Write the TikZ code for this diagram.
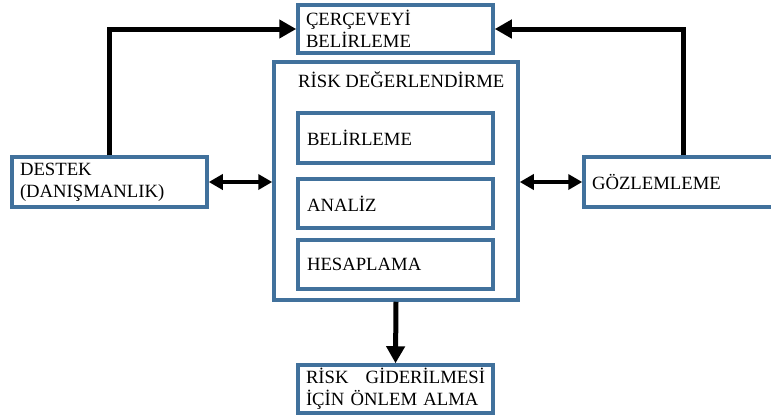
\documentclass[tikz,border=0pt]{standalone}
\usepackage{fontspec}
\setmainfont{Liberation Serif}
\usetikzlibrary{arrows.meta}
\definecolor{boxblue}{RGB}{65,113,156}
\begin{document}
\begin{tikzpicture}[x=1pt,y=-1pt,
  font=\fontsize{18.7}{22}\selectfont,
  box/.style={draw=boxblue, line width=3.5pt, inner xsep=8pt, inner ysep=0pt,
    align=left, anchor=center},
  tipbig/.tip={Triangle[length=17pt,width=18pt]},
  tipsmall/.tip={Triangle[length=14pt,width=15pt]},
  conn/.style={line width=5pt, -tipbig},
  twoway/.style={line width=4pt, tipsmall-tipsmall}]
\useasboundingbox (0,0) rectangle (771,418);

% outer boxes
\node[box, minimum width=195pt, minimum height=48pt, text width=179pt] (frame) at (395.5,29)
  {ÇERÇEVEYİ\\BELİRLEME};
\node[box, minimum width=195pt, minimum height=50pt, text width=179pt] (destek) at (109.5,182)
  {DESTEK\\(DANIŞMANLIK)};
\node[box, minimum width=191pt, minimum height=50pt, text width=175pt] (gozlem) at (679.5,182)
  {GÖZLEMLEME};
\node[box, minimum width=195pt, minimum height=48pt, text width=179pt] (onlem) at (395.5,389)
  {RİSK\hfill GİDERİLMESİ\\İÇİN ÖNLEM ALMA};

% risk assessment group
\node[draw=boxblue, line width=3.5pt, minimum width=244pt, minimum height=238pt, inner sep=0pt] (risk) at (396,181) {};
\node[anchor=base west, inner sep=0pt] (risktitle) at (298,87) {RİSK DEĞERLENDİRME};
\node[box, inner xsep=9pt, minimum width=195pt, minimum height=50pt, text width=177pt] (belir) at (395.5,138)
  {BELİRLEME};
\node[box, inner xsep=9pt, minimum width=195pt, minimum height=49pt, text width=177pt] (analiz) at (395.5,203.5)
  {ANALİZ};
\node[box, inner xsep=9pt, minimum width=195pt, minimum height=49pt, text width=177pt] (hesap) at (395.5,264.5)
  {HESAPLAMA};

% connectors
\draw[conn] (destek.north) |- (frame.west);
\draw[conn] ([xshift=3.5pt]gozlem.north) |- (frame.east);
\draw[twoway] (destek.east) -- (destek.east -| risk.west);
\draw[twoway] (gozlem.west -| risk.east) -- (gozlem.west);
\draw[conn] (risk.south) -- (onlem.north);
\end{tikzpicture}
\end{document}
